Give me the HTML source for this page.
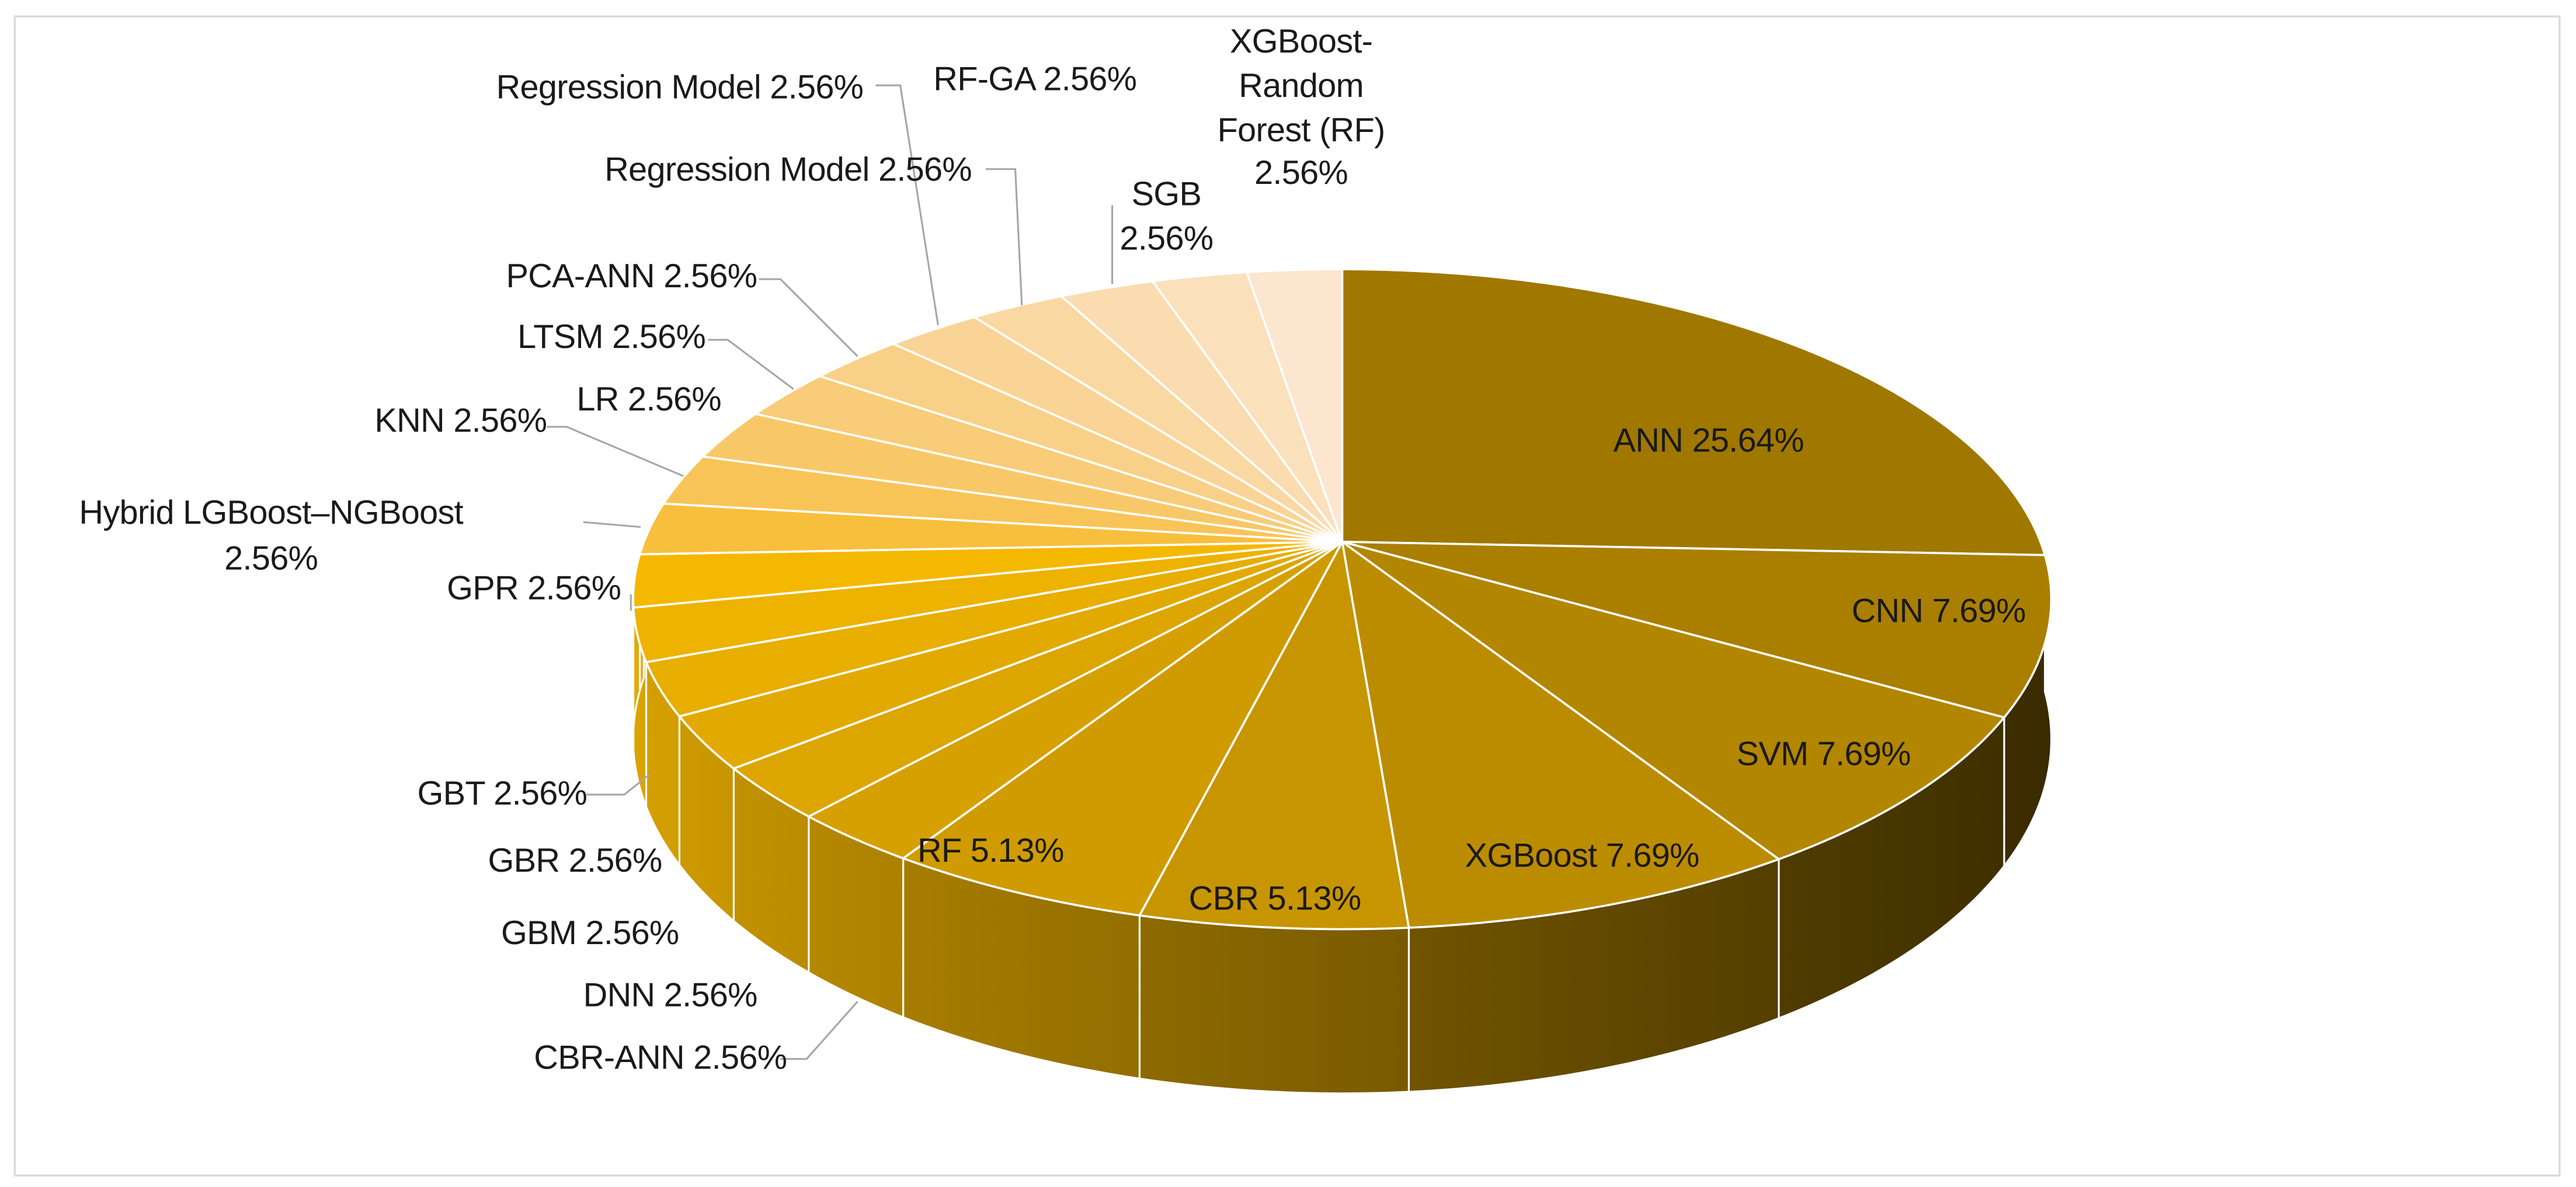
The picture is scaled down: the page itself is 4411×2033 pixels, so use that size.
<!DOCTYPE html>
<html><head><meta charset="utf-8">
<style>
html,body{margin:0;padding:0;background:#fff;}
svg{display:block;}
text{font-family:"Liberation Sans",sans-serif;font-size:20.5px;fill:#1a1a1a;letter-spacing:-0.25px;}
</style></head>
<body>
<svg id="chart" width="4411" height="2033" viewBox="0 0 1568 723" preserveAspectRatio="none" xmlns="http://www.w3.org/2000/svg">
<defs id="defs"></defs>
<rect x="9" y="10" width="1549" height="706" fill="#fff" stroke="#d9d9d9" stroke-width="1.2"/>
<g id="walls"></g>
<g id="tops"></g>
<g id="leaders" fill="none" stroke="#a6a6a6" stroke-width="1.1">
<polyline points="533,52 548,52 571,198"/>
<polyline points="600,103 618,103 622,186"/>
<polyline points="677,125 677,173"/>
<polyline points="462,170 475,170 522,217"/>
<polyline points="431,207 443,207 483,237"/>
<polyline points="333,260 345,260 416,290"/>
<polyline points="355,318 390,321"/>
<polyline points="384,362 384,372"/>
<polyline points="357,484 380,484 395,472"/>
<polyline points="475,645 491,645 522,610"/>
</g>
<g id="labels">
<text x="1040" y="275" text-anchor="middle">ANN 25.64%</text>
<text x="1180" y="379" text-anchor="middle">CNN 7.69%</text>
<text x="1110" y="466" text-anchor="middle">SVM 7.69%</text>
<text x="963" y="528" text-anchor="middle">XGBoost 7.69%</text>
<text x="776" y="554" text-anchor="middle">CBR 5.13%</text>
<text x="603" y="525" text-anchor="middle">RF 5.13%</text>
<text text-anchor="middle"><tspan x="792" y="32">XGBoost-</tspan><tspan x="792" y="59">Random</tspan><tspan x="792" y="86">Forest (RF)</tspan><tspan x="792" y="112">2.56%</tspan></text>
<text text-anchor="middle"><tspan x="710" y="125">SGB</tspan><tspan x="710" y="152">2.56%</tspan></text>
<text x="630" y="55" text-anchor="middle">RF-GA 2.56%</text>
<text x="302" y="60">Regression Model  2.56%</text>
<text x="368" y="110">Regression Model 2.56%</text>
<text x="308" y="175">PCA-ANN 2.56%</text>
<text x="315" y="212">LTSM 2.56%</text>
<text x="351" y="250">LR 2.56%</text>
<text x="228" y="263">KNN 2.56%</text>
<text text-anchor="middle"><tspan x="165" y="319">Hybrid LGBoost–NGBoost</tspan><tspan x="165" y="347">2.56%</tspan></text>
<text x="272" y="365">GPR 2.56%</text>
<text x="254" y="490">GBT 2.56%</text>
<text x="297" y="531">GBR 2.56%</text>
<text x="305" y="575">GBM 2.56%</text>
<text x="355" y="613">DNN 2.56%</text>
<text x="325" y="651">CBR-ANN 2.56%</text>
</g>
</svg>
<script>
const categories = ["ANN","CNN","SVM","XGBoost","CBR","RF","CBR-ANN","DNN","GBM","GBR","GBT","GPR","Hybrid LGBoost–NGBoost","KNN","LR","LTSM","PCA-ANN","Regression Model","Regression Model 2","RF-GA","SGB","XGBoost-Random Forest (RF)"];
const values = [25.64,7.69,7.69,7.69,5.13,5.13,2.56,2.56,2.56,2.56,2.56,2.56,2.56,2.56,2.56,2.56,2.56,2.56,2.56,2.56,2.56,2.56];
const colors = ["#a07800","#aa7f00","#b38600","#bc8c00","#c79500","#cf9b00","#d6a000","#dca500","#e2aa00","#e8ae00","#eeb200","#f5b800","#f7bf3c","#f8c458","#f8c868","#f8cc78","#f9d088","#f9d496","#fad8a2","#fadcb0","#fbe0bc","#fce6cf"];

const NS="http://www.w3.org/2000/svg";
const CX=817, CY=330, A=425, B=194.9, K=0.174, D=82.6;
function P(deg, dep){
  const t=deg*Math.PI/180, x=Math.sin(t), y=-Math.cos(t), w=1-K*y;
  return [CX+A*x/w, CY+(B*y+dep)/w];
}
function hexRgb(h){return [1,3,5].map(i=>parseInt(h.substr(i,2),16));}
function shade(h,f){return "rgb("+hexRgb(h).map(v=>Math.round(v*f)).join(",")+")";}
function fx(x){const r=Math.min(1,Math.max(0,(x-385)/(1245-385)));return 0.92-0.58*r;}

const total=values.reduce((a,b)=>a+b,0);
const defs=document.getElementById('defs'), walls=document.getElementById('walls'), tops=document.getElementById('tops');
let acc=0;
values.forEach((v,i)=>{
  const a0=acc/total*360, a1=(acc+v)/total*360; acc+=v;
  let pts=[[CX,CY]];
  const n=Math.max(2,Math.ceil((a1-a0)/0.5));
  for(let j=0;j<=n;j++) pts.push(P(a0+(a1-a0)*j/n,0));
  const top=document.createElementNS(NS,'path');
  top.setAttribute('d','M'+pts.map(p=>p[0].toFixed(2)+','+p[1].toFixed(2)).join(' L')+' Z');
  top.setAttribute('fill',colors[i]);
  top.setAttribute('stroke','#ffffff');
  top.setAttribute('stroke-width','1.3');
  
  
  tops.appendChild(top);
  const w0=Math.max(a0,90), w1=Math.min(a1,270);
  if(w1>w0){
    const m=Math.max(2,Math.ceil((w1-w0)/0.5));
    const up=[], dn=[];
    for(let j=0;j<=m;j++){const d=w0+(w1-w0)*j/m; up.push(P(d,0)); dn.push(P(d,D));}
    dn.reverse();
    const all=up.concat(dn);
    const xs=all.map(p=>p[0]); const xmin=Math.min(...xs), xmax=Math.max(...xs);
    const gid='wg'+i;
    const g=document.createElementNS(NS,'linearGradient');
    g.setAttribute('id',gid);g.setAttribute('gradientUnits','userSpaceOnUse');
    g.setAttribute('x1',xmin);g.setAttribute('x2',xmax);g.setAttribute('y1',0);g.setAttribute('y2',0);
    [[0,fx(xmin)],[1,fx(xmax)]].forEach(s=>{const st=document.createElementNS(NS,'stop');st.setAttribute('offset',s[0]);st.setAttribute('stop-color',shade(colors[i],s[1]));g.appendChild(st);});
    defs.appendChild(g);
    const wall=document.createElementNS(NS,'path');
    wall.setAttribute('d','M'+all.map(p=>p[0].toFixed(2)+','+p[1].toFixed(2)).join(' L')+' Z');
    wall.setAttribute('fill','url(#'+gid+')');
    wall.setAttribute('stroke','#ffffff');
    wall.setAttribute('stroke-width','1.1');
    
    
    walls.appendChild(wall);
  }
});
</script>
</body></html>
